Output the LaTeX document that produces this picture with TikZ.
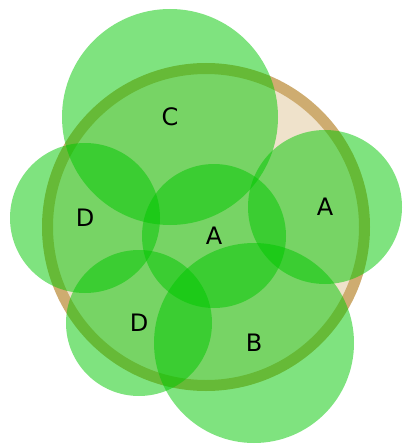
\documentclass[tikz,border=0pt]{standalone}
\usepackage{fontspec}
\setmainfont{DejaVu Sans}
\definecolor{rimtan}{HTML}{CEAC70}
\definecolor{discbeige}{HTML}{EFE2CB}
\definecolor{zonegreen}{RGB}{0,200,0}

\begin{document}
\begin{tikzpicture}[x=1pt,y=-1pt,
  every node/.style={circle,inner sep=0pt,font=\fontsize{24}{28}\selectfont},
  zone/.style={fill=zonegreen,fill opacity=0.5,text opacity=1}]
\useasboundingbox (0,0) rectangle (402,444);
\node[draw=rimtan,line width=11pt,fill=discbeige,minimum size=317pt] at(206,227)(disc){};
\node[zone,minimum size=216pt] at(170,117)(c){C};
\node[zone,minimum size=154pt] at(325,207)(a2){A};
\node[zone,minimum size=150pt] at(85,218) (d1){D};
\node[zone,minimum size=146pt] at(139,323)(d2){D};
\node[zone,minimum size=200pt] at(254,343)(b){B};
\node[zone,minimum size=144pt] at(214,236)(a1){A};
\end{tikzpicture}
\end{document}
